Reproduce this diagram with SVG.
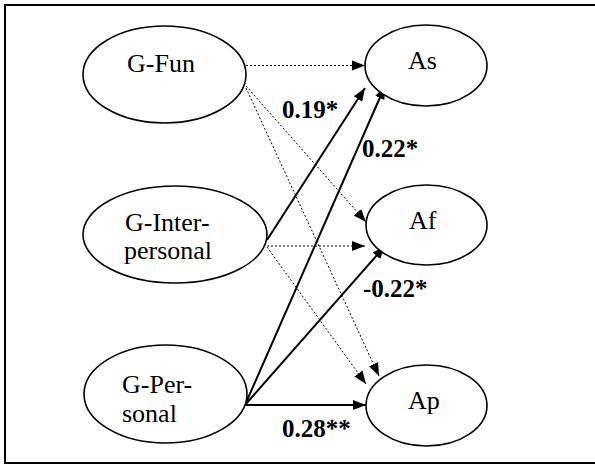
<svg xmlns="http://www.w3.org/2000/svg" width="595" height="466" viewBox="0 0 595 466">
<style>
.node{fill:#fff;stroke:#000;stroke-width:1.6}
.lbl{font-family:'Liberation Serif','Times New Roman',serif;font-size:26px;fill:#000}
.coef{font-family:'Liberation Serif','Times New Roman',serif;font-size:25px;font-weight:bold;fill:#000}
.dot{fill:none;stroke:#000;stroke-width:1;stroke-dasharray:2,2;marker-end:url(#ah)}
.sol{fill:none;stroke:#000;stroke-width:2;marker-end:url(#ah)}
</style>
<defs>
<marker id="ah" markerUnits="userSpaceOnUse" markerWidth="14" markerHeight="12" refX="13" refY="5" orient="auto" viewBox="0 0 14 10">
<path d="M0,0 L13,5 L0,10 Z" fill="#000"/>
</marker>
</defs>
<rect width="595" height="466" fill="#fff"/>
<path d="M600,5 H5 V463 H600" fill="none" stroke="#000" stroke-width="2"/>
<g id="connectors">
<line class="dot" x1="246" y1="65.5" x2="365" y2="65.5"/>
<line class="dot" x1="246" y1="86" x2="366" y2="222"/>
<line class="dot" x1="246" y1="88" x2="379" y2="376"/>
<line class="dot" x1="267" y1="246" x2="365" y2="246"/>
<line class="dot" x1="267" y1="247" x2="366" y2="384"/>
<line class="sol" x1="267" y1="240" x2="365" y2="88"/>
<line class="sol" x1="245" y1="405" x2="385" y2="86"/>
<line class="sol" x1="245" y1="405" x2="385" y2="246"/>
<line class="sol" x1="245" y1="405" x2="366" y2="405" stroke-width="2.6"/>
</g>
<g id="labels">
<text class="coef" x="282" y="118">0.19*</text>
<text class="coef" x="362" y="157">0.22*</text>
<text class="coef" x="363" y="297">-0.22*</text>
<text class="coef" x="282" y="437">0.28**</text>
</g>
<g id="g-fun">
<ellipse class="node" cx="164.5" cy="74.5" rx="81.5" ry="48.5"/>
<text class="lbl" x="127" y="72">G-Fun</text>
</g>
<g id="g-interpersonal">
<ellipse class="node" cx="175" cy="234.5" rx="92" ry="48.5"/>
<text class="lbl" x="125" y="231">G-Inter-</text>
<text class="lbl" x="124" y="259">personal</text>
</g>
<g id="g-personal">
<ellipse class="node" cx="165.5" cy="394" rx="81.5" ry="49"/>
<text class="lbl" x="122" y="393">G-Per-</text>
<text class="lbl" x="122" y="422">sonal</text>
</g>
<g id="as">
<ellipse class="node" cx="426" cy="65.5" rx="61" ry="40.5"/>
<text class="lbl" x="408" y="69">As</text>
</g>
<g id="af">
<ellipse class="node" cx="426.5" cy="225" rx="60.5" ry="40"/>
<text class="lbl" x="409" y="229">Af</text>
</g>
<g id="ap">
<ellipse class="node" cx="426.5" cy="405.5" rx="60.5" ry="40.5"/>
<text class="lbl" x="408" y="409">Ap</text>
</g>
</svg>
